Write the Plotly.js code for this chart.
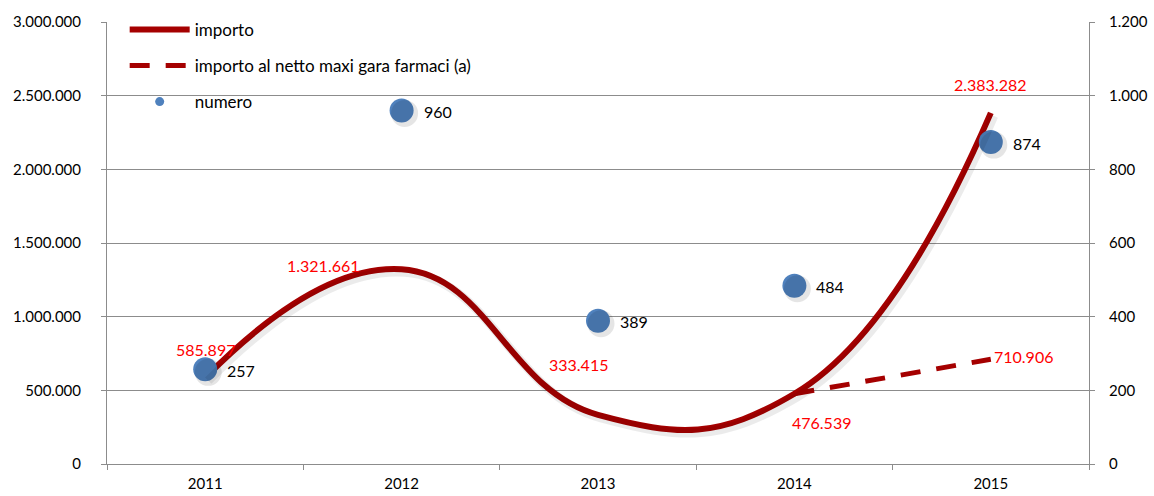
<!DOCTYPE html>
<html>
<head>
<meta charset="utf-8">
<script src="https://cdn.plot.ly/plotly-3.0.1.min.js"></script>
<style>html,body{margin:0;padding:0;background:#fff;}#chart{width:1154px;height:496px;}</style>
</head>
<body>
<div id="chart"></div>
<script>
const years = ['2011', '2012', '2013', '2014', '2015'];
const importo = [585897, 1321661, 333415, 476539, 2383282];
const importoNetto = [null, null, null, 476539, 710906];
const numero = [257, 960, 389, 484, 874];
const importoLabels = ['585.897', '1.321.661', '333.415', '476.539', '2.383.282'];
const nettoLabels = [null, null, null, null, '710.906'];
const numeroLabels = ['257', '960', '389', '484', '874'];
const leftTicks = [0, 500000, 1000000, 1500000, 2000000, 2500000, 3000000];
const rightTicks = [0, 200, 400, 600, 800, 1000, 1200];

const DARKRED = '#A50000';
const BLUE = '#4F81BD';
const GRID = '#8C8C8C';
const FONT = 'Lato, "Open Sans", sans-serif';

const traces = [
  // soft shadows
  {x: years, y: importo, xaxis: 'x2', yaxis: 'y3', type: 'scatter', mode: 'lines',
   line: {shape: 'spline', smoothing: 1.3, width: 9, color: 'rgba(0,0,0,0.08)'},
   showlegend: false, hoverinfo: 'skip'},
  {x: years, y: numero, xaxis: 'x2', yaxis: 'y4', type: 'scatter', mode: 'markers',
   marker: {size: 27, color: 'rgba(0,0,0,0.10)'}, showlegend: false, hoverinfo: 'skip'},
  // main
  {x: years, y: importo, name: 'importo', type: 'scatter', mode: 'lines',
   line: {shape: 'spline', smoothing: 1.3, width: 6, color: DARKRED}, legendgroup: 'a'},
  {x: years, y: importoNetto, name: 'importo al netto maxi gara farmaci (a)', type: 'scatter', mode: 'lines',
   line: {width: 5, color: DARKRED, dash: '20px,16px'}, legendgroup: 'b', connectgaps: false},
  {x: years, y: numero, name: 'numero', yaxis: 'y2', type: 'scatter', mode: 'markers',
   marker: {size: 24, color: BLUE}, showlegend: false},
  {x: [years[0]], y: [null], name: 'numero', yaxis: 'y2', type: 'scatter', mode: 'markers',
   marker: {size: 9, color: BLUE}, legendgroup: 'c'}
];

const redOffsets = [[0, 28], [-78, 4], [-20, 50], [27, -29], [0, 28]];
const annotations = [];
years.forEach((yr, i) => {
  annotations.push({x: i, y: importo[i], xref: 'x', yref: 'y', text: importoLabels[i], showarrow: false,
    xshift: redOffsets[i][0], yshift: redOffsets[i][1], font: {family: FONT, size: 16, color: '#FF0000'}});
  if (nettoLabels[i]) {
    annotations.push({x: i, y: importoNetto[i], xref: 'x', yref: 'y', text: nettoLabels[i], showarrow: false,
      xanchor: 'left', xshift: 1, yshift: 3, font: {family: FONT, size: 16, color: '#FF0000'}});
  }
  annotations.push({x: i, y: numero[i], xref: 'x', yref: 'y2', text: numeroLabels[i], showarrow: false,
    xshift: 36, yshift: -1, font: {family: FONT, size: 16, color: '#000000'}});
});

const dX = 3 / 196.4, dY = 3 / 442;
const layout = {
  width: 1154, height: 496,
  margin: {l: 107, r: 65, t: 22, b: 32},
  paper_bgcolor: '#ffffff', plot_bgcolor: '#ffffff',
  separators: ',.',
  font: {family: FONT, size: 15, color: '#000'},
  xaxis: {type: 'category', categoryorder: 'array', categoryarray: years, range: [-0.5, 4.5],
    tickson: 'boundaries', ticks: 'outside', ticklen: 5, tickcolor: GRID, showgrid: false,
    showline: true, linecolor: GRID, linewidth: 1, zeroline: false, ticklabelstandoff: 6,
    tickfont: {family: FONT, size: 15, color: '#000'}},
  xaxis2: {type: 'category', categoryorder: 'array', categoryarray: years, overlaying: 'x',
    range: [-0.5 - dX, 4.5 - dX], visible: false},
  yaxis: {range: [0, 3000000], tickvals: leftTicks, tickformat: ',d', showgrid: true, gridcolor: GRID,
    gridwidth: 1, showline: true, linecolor: GRID, ticks: 'outside', ticklen: 5, tickcolor: GRID,
    zeroline: false, ticklabelstandoff: 17, tickfont: {family: FONT, size: 15, color: '#000'}},
  yaxis2: {range: [0, 1200], tickvals: rightTicks, tickformat: ',d', overlaying: 'y', side: 'right',
    showgrid: false, showline: true, linecolor: GRID, ticks: 'outside', ticklen: 5, tickcolor: GRID,
    zeroline: false, ticklabelstandoff: 11, tickfont: {family: FONT, size: 15, color: '#000'}},
  yaxis3: {range: [3000000 * dY, 3000000 * (1 + dY)], overlaying: 'y', visible: false},
  yaxis4: {range: [1200 * dY, 1200 * (1 + dY)], overlaying: 'y', visible: false},
  legend: {x: 0.018, y: 1.023, xanchor: 'left', yanchor: 'top', bgcolor: 'rgba(0,0,0,0)',
    traceorder: 'grouped', tracegroupgap: 11, itemwidth: 60,
    font: {family: FONT, size: 17, color: '#000'}},
  showlegend: true,
  annotations: annotations
};

Plotly.newPlot('chart', traces, layout, {displayModeBar: false, staticPlot: true});
</script>
</body>
</html>
